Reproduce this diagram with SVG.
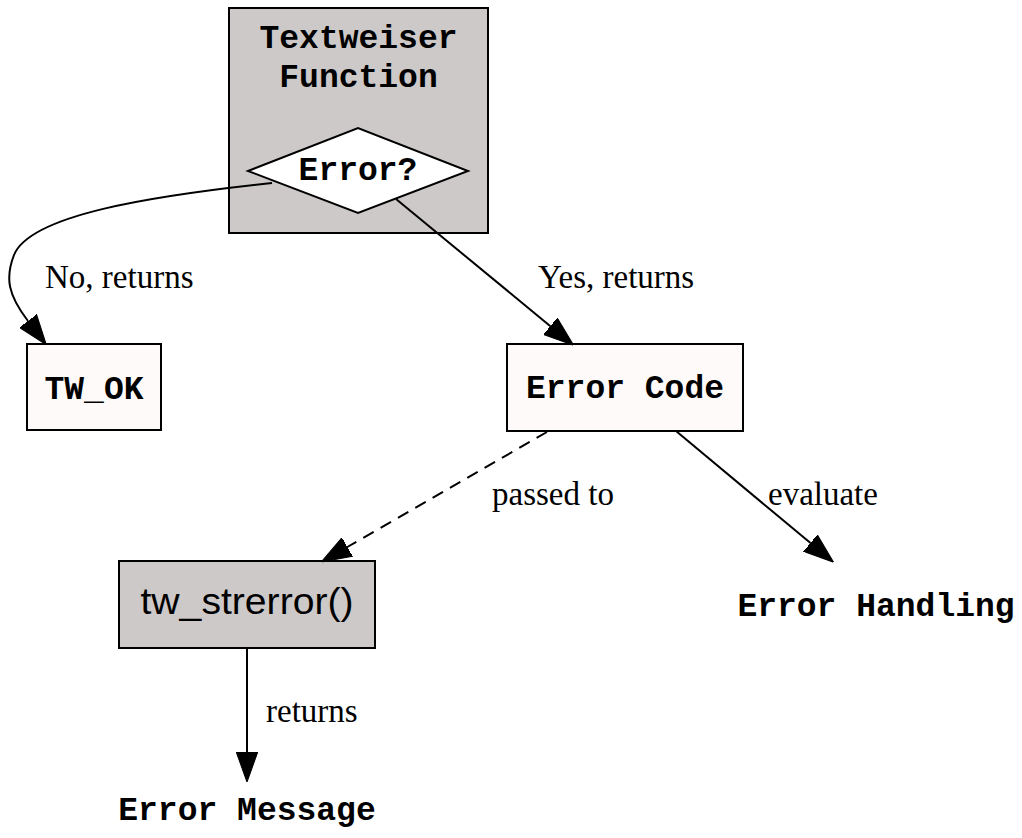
<svg xmlns="http://www.w3.org/2000/svg" width="1022" height="838" viewBox="0 0 1022 838">
<style>
.mono{font-family:"Liberation Mono","Courier New",monospace;font-weight:bold;font-size:33px;fill:#000}
.serif{font-family:"Liberation Serif","Times New Roman",serif;font-size:33px;fill:#000}
.sans{font-family:"Liberation Sans",Arial,sans-serif;font-size:36px;fill:#000}
.box{stroke:#000;stroke-width:2}
.edge{fill:none;stroke:#000;stroke-width:2}
</style>
<defs>
<marker id="arr" markerUnits="userSpaceOnUse" markerWidth="30" markerHeight="22" refX="0" refY="10" orient="auto" viewBox="0 0 28 20">
<path d="M0,0 L28,10 L0,20 z" fill="#000" stroke="#000" stroke-width="1"/>
</marker>
</defs>
<rect width="1022" height="838" fill="#fff"/>
<g id="cluster_textweiser">
<rect class="box" x="229" y="8" width="259" height="225" fill="#cdc9c9"/>
<text class="mono" x="358.5" y="48" text-anchor="middle">Textweiser</text>
<text class="mono" x="358.5" y="87" text-anchor="middle">Function</text>
</g>
<g id="node_error">
<polygon class="box" points="248,171 358,128 468,171 358,213" fill="#fff"/>
<text class="mono" x="358" y="180" text-anchor="middle">Error?</text>
</g>
<g id="node_tw_ok">
<rect class="box" x="27" y="344" width="134" height="86" fill="#fffafa"/>
<text class="mono" x="94" y="399" text-anchor="middle">TW_OK</text>
</g>
<g id="node_error_code">
<rect class="box" x="507" y="344" width="236" height="87" fill="#fffafa"/>
<text class="mono" x="625" y="398" text-anchor="middle">Error Code</text>
</g>
<g id="node_tw_strerror">
<rect class="box" x="119" y="561" width="256" height="87" fill="#cdc9c9"/>
<text class="sans" x="247" y="614" text-anchor="middle" textLength="213" lengthAdjust="spacingAndGlyphs">tw_strerror()</text>
</g>
<g id="node_error_handling">
<text class="mono" x="876" y="616" text-anchor="middle">Error Handling</text>
</g>
<g id="node_error_message">
<text class="mono" x="247" y="820" text-anchor="middle">Error Message</text>
</g>
<g id="connectors">
<path class="edge" d="M272,183 C150,196 30,215 14,255 C5,278 8,295 28,321" marker-end="url(#arr)"/>
<path class="edge" d="M396,199 L550.4,326.2" marker-end="url(#arr)"/>
<path class="edge" d="M547,432 L347.3,547" stroke-dasharray="12,8" marker-end="url(#arr)"/>
<path class="edge" d="M676,431 L810.5,543.1" marker-end="url(#arr)"/>
<path class="edge" d="M247,648 L247,752" marker-end="url(#arr)"/>
<text class="serif" x="45" y="288">No, returns</text>
<text class="serif" x="538" y="288">Yes, returns</text>
<text class="serif" x="492" y="505">passed to</text>
<text class="serif" x="768" y="505">evaluate</text>
<text class="serif" x="266" y="722">returns</text>
</g>
</svg>
